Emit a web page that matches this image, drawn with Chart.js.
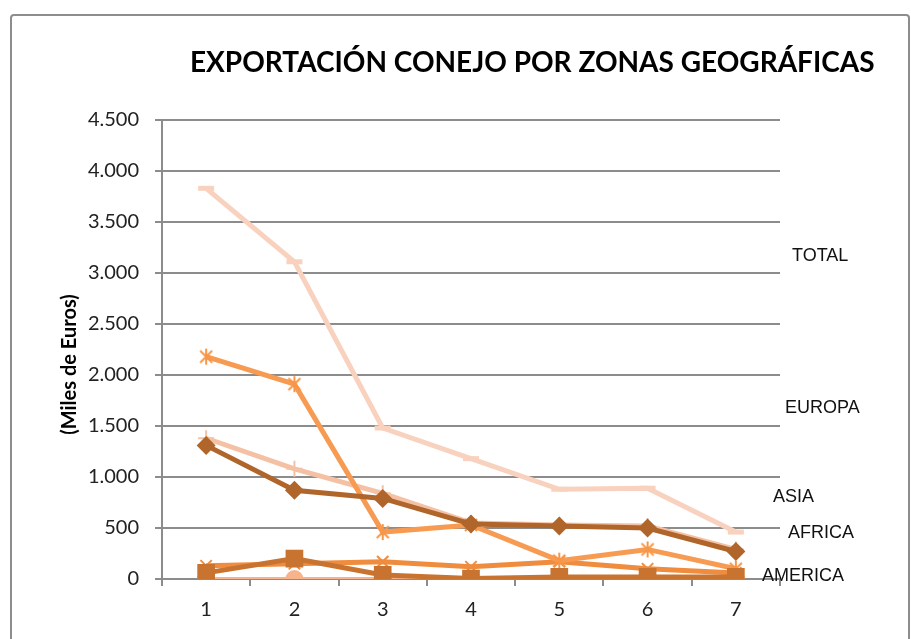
<!DOCTYPE html>
<html>
<head>
<meta charset="utf-8">
<script src="https://cdn.jsdelivr.net/npm/chart.js@4"></script>
<style>
  html, body { margin: 0; padding: 0; background: #fff; overflow: hidden; }
  #wrap { position: relative; width: 911px; height: 639px; }
  #frame { position: absolute; left: 10px; top: 14px; width: 896px; height: 700px;
           border: 2px solid #8d8d8d; border-radius: 4px; }
  canvas { position: absolute; left: 0; top: 0; }
</style>
</head>
<body>
<div id="wrap">
  <div id="frame"></div>
  <canvas id="chart" width="911" height="639"></canvas>
</div>
<script>
// categories and tick labels
var categorias = ['1', '2', '3', '4', '5', '6', '7'];
var yTicks = [0, 500, 1000, 1500, 2000, 2500, 3000, 3500, 4000, 4500];

// series values (miles de euros)
var total = [3830, 3110, 1480, 1180, 880, 890, 460];
var serieCruz = [1380, 1080, 840, 550, 530, 520, 290];
var serieRombo = [1310, 870, 790, 540, 520, 500, 270];
var serieEstrella = [2180, 1910, 460, 530, 180, 290, 100];
var serieAspa = [130, 150, 170, 120, 170, 100, 60];
var serieCuadro = [60, 200, 40, 5, 20, 20, 20];
var serieCirculo = [0, 0, 0, 0, 0, 0, 0];

// text labels on the right of the plot
var etiquetas = ['TOTAL', 'EUROPA', 'ASIA', 'AFRICA', 'AMERICA'];
var etiquetasValor = [3170, 1680, 800, 450, 30];
var etiquetasDx = [12, 5, -7, 8, -18];

var fmt = function (v) {
  var s = String(v);
  return s.length > 3 ? s.slice(0, s.length - 3) + '.' + s.slice(-3) : s;
};

// Excel-style star marker: an x with a vertical bar
var estrella = document.createElement('canvas');
estrella.width = 18; estrella.height = 18;
(function () {
  var c = estrella.getContext('2d');
  c.strokeStyle = '#F79646';
  c.lineWidth = 2;
  c.beginPath();
  c.moveTo(3, 3); c.lineTo(15, 15);
  c.moveTo(15, 3); c.lineTo(3, 15);
  c.moveTo(9, 1); c.lineTo(9, 17);
  c.stroke();
})();

var textos = {
  id: 'textos',
  afterDraw: function (chart) {
    var ctx = chart.ctx;
    var area = chart.chartArea;
    var y = chart.scales.y;
    ctx.save();
    ctx.fillStyle = '#000';
    ctx.textBaseline = 'middle';
    ctx.textAlign = 'left';
    ctx.font = 'bold 28px Lato';
    ctx.fillText('EXPORTACIÓN CONEJO POR ZONAS GEOGRÁFICAS', 190, 63);

    ctx.font = '18px "Liberation Sans"';
    ctx.fillStyle = '#111';
    for (var i = 0; i < etiquetas.length; i++) {
      ctx.fillText(etiquetas[i], area.right + etiquetasDx[i], y.getPixelForValue(etiquetasValor[i]));
    }

    ctx.translate(70, (area.top + area.bottom) / 2 + 15);
    ctx.rotate(-Math.PI / 2);
    ctx.textAlign = 'center';
    ctx.fillStyle = '#000';
    ctx.font = 'bold 20px Lato';
    ctx.fillText('(Miles de Euros)', 0, 0);
    ctx.restore();
  }
};

var gris = '#8c8c8c';

new Chart(document.getElementById('chart'), {
  type: 'line',
  data: {
    labels: categorias,
    datasets: [{
      label: 'Cuadro',
      data: serieCuadro,
      borderColor: '#C8732F',
      backgroundColor: '#C8732F',
      borderWidth: 5,
      pointStyle: 'rect',
      pointRadius: 12.5,
      pointBorderWidth: 0
    }, {
      label: 'Rombo',
      data: serieRombo,
      borderColor: '#B0652B',
      backgroundColor: '#B0652B',
      borderWidth: 5,
      pointStyle: 'rectRot',
      pointRadius: 9.5,
      pointBorderWidth: 0
    }, {
      label: 'Estrella',
      data: serieEstrella,
      borderColor: '#F79A52',
      backgroundColor: '#F79A52',
      borderWidth: 5,
      pointStyle: estrella
    }, {
      label: 'Aspa',
      data: serieAspa,
      borderColor: '#EF8C3E',
      backgroundColor: '#EF8C3E',
      borderWidth: 5,
      pointStyle: 'crossRot',
      pointRadius: 8,
      pointBorderWidth: 2
    }, {
      label: 'Cruz',
      data: serieCruz,
      borderColor: '#F5C1A4',
      backgroundColor: '#F5C1A4',
      borderWidth: 5,
      pointStyle: 'cross',
      pointRadius: 8,
      pointBorderWidth: 2
    }, {
      label: 'TOTAL',
      data: total,
      borderColor: '#F8D2BE',
      backgroundColor: '#F8D2BE',
      borderWidth: 5,
      pointStyle: 'line',
      pointRadius: 8,
      pointBorderWidth: 5
    }, {
      label: 'Circulo',
      data: serieCirculo,
      borderColor: '#F8B38B',
      backgroundColor: '#F8B38B',
      borderWidth: 4,
      pointStyle: 'circle',
      pointRadius: 9,
      pointBorderWidth: 0
    }]
  },
  options: {
    responsive: false,
    animation: false,
    tension: 0,
    layout: { padding: { left: 0, right: 131, top: 120, bottom: 0 } },
    plugins: {
      legend: { display: false },
      title: { display: false },
      tooltip: { enabled: false }
    },
    scales: {
      x: {
        offset: true,
        afterFit: function (s) { s.height = 60; },
        grid: { offset: true, drawOnChartArea: false, color: gris, tickLength: 7, lineWidth: 2 },
        border: { color: gris, width: 2 },
        ticks: { color: '#222', font: { family: 'Lato', size: 20 }, padding: 12 }
      },
      y: {
        min: 0,
        max: 4500,
        afterFit: function (s) { s.width = 162; },
        afterBuildTicks: function (s) { s.ticks = yTicks.map(function (v) { return { value: v }; }); },
        grid: { color: gris, tickLength: 7, lineWidth: 2 },
        border: { color: gris, width: 2 },
        ticks: {
          color: '#222',
          font: { family: 'Lato', size: 20 },
          padding: 16,
          callback: function (v) { return fmt(v); }
        }
      }
    }
  },
  plugins: [textos]
});
</script>
</body>
</html>
